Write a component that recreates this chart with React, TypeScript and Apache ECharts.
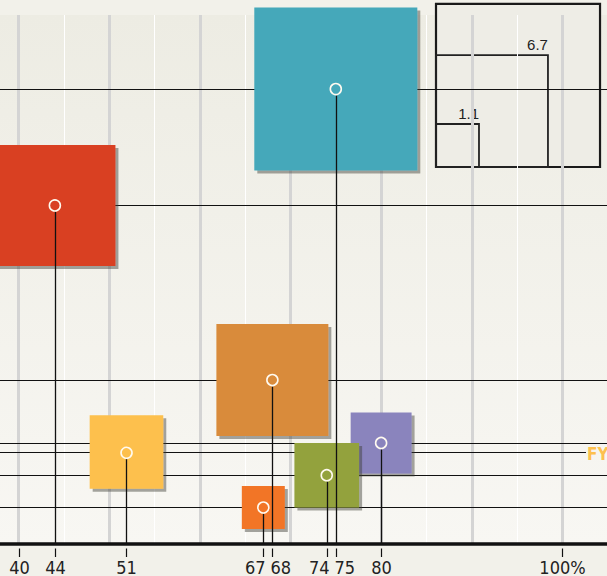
import React, { useEffect, useRef } from "react";
import * as echarts from "echarts";

// ---- data ----
const names = ["Red", "Teal", "Amber", "Yellow", "Violet", "Olive", "Orange"];
const xValues = [44, 75, 68, 51.9, 80, 74, 67];
const xLabels = ["44", "75", "68", "51", "80", "74", "67"];
const yValues = [64.0, 86.0, 31.0, 17.4, 19.1, 13.0, 6.9];
const sizeValues = [7.8, 13.9, 6.7, 3.0, 2.1, 2.35, 1.1];
const colors = ["#d93f22", "#45a8ba", "#d98b3a", "#fdc04e", "#8a84bd", "#93a23d", "#f27425"];
const endLabels = ["", "", "", "FY", "", "", ""];
const axisTickValues = [40, 100];
const axisTickLabels = ["40", "100%"];
const legendValues = [1.1, 6.7];
const legendLabels = ["1.1", "6.7"];

const FONT = "'Liberation Sans Narrow', 'DejaVu Sans Condensed', sans-serif";
const LEGEND_FONT = "'Liberation Sans', 'DejaVu Sans', sans-serif";
const sideOf = (v: number) => 44.8 * Math.sqrt(v) - 4;
const CHART_LEFT = -72;
const LABEL_END_X = 586 - CHART_LEFT; // where a labelled level line stops

export default function App() {
  const ref = useRef<HTMLDivElement>(null);

  useEffect(() => {
    const chart = echarts.init(ref.current!, null, { renderer: "svg" });

    const points = xValues.map((x, i) => [x, yValues[i], sizeValues[i], i]);

    const tickVals = [...axisTickValues, ...xValues];
    const tickTexts = [...axisTickLabels, ...xLabels];
    const order = tickVals.map((v, i) => i).sort((a, b) => tickVals[a] - tickVals[b]);
    const aligns: string[] = tickVals.map(() => "center");
    for (let k = 0; k < order.length - 1; k++) {
      const a = order[k], b = order[k + 1];
      if (tickVals[b] - tickVals[a] < 2) {
        aligns[a] = "right";
        aligns[b] = "left";
      }
    }
    const tickData = tickVals.map((v, i) => [v, 0, i]);

    const maxSize = Math.max(...sizeValues);
    const boxSide = sideOf(maxSize);
    const lgX = 436 - CHART_LEFT;
    const lgBottom = 167;

    const legendChildren: any[] = [
      {
        type: "rect",
        shape: { x: lgX, y: lgBottom - boxSide, width: boxSide + 1, height: boxSide },
        style: { fill: "#eeede6", stroke: "#1a1a1a", lineWidth: 2.2 },
      },
    ];
    legendValues.forEach((v, i) => {
      const s = sideOf(v);
      legendChildren.push({
        type: "rect",
        shape: { x: lgX, y: lgBottom - s, width: s, height: s },
        style: { fill: "none", stroke: "#222", lineWidth: 1.8 },
      });
      legendChildren.push({
        type: "text",
        x: lgX + s,
        y: lgBottom - s - 3,
        style: {
          text: legendLabels[i],
          fill: "#222",
          font: `15px ${LEGEND_FONT}`,
          textAlign: "right",
          textVerticalAlign: "bottom",
        },
      });
    });

    const option: any = {
      animation: false,
      grid: {
        left: 0,
        right: 35,
        top: 15,
        bottom: 32,
        show: true,
        borderWidth: 0,
        backgroundColor: new echarts.graphic.LinearGradient(0, 0, 0, 1, [
          { offset: 0, color: "#edece3" },
          { offset: 1, color: "#f8f7f3" },
        ]),
      },
      xAxis: [
        {
          type: "value",
          min: 30,
          max: 110,
          interval: 5,
          z: 0,
          axisLine: { show: false },
          axisTick: { show: false },
          axisLabel: { show: false },
          splitLine: { show: true, lineStyle: { color: "#ffffff", width: 1 } },
        },
        {
          type: "value",
          min: 30,
          max: 110,
          interval: 10,
          position: "bottom",
          z: 1,
          axisLine: { show: true, onZero: false, lineStyle: { color: "#111", width: 3.6 } },
          axisTick: { show: false },
          axisLabel: { show: false },
          splitLine: { show: true, lineStyle: { color: "#d4d4d4", width: 3 } },
        },
      ],
      yAxis: { type: "value", min: 0, max: 100, show: false },
      graphic: [{ type: "group", z: 100, children: legendChildren }],
      series: [
        {
          name: "levels",
          type: "custom",
          xAxisIndex: 1,
          z: 2,
          clip: false,
          data: points,
          renderItem: (params: any, api: any) => {
            const i = api.value(3);
            const p = api.coord([api.value(0), api.value(1)]);
            const y = Math.round(p[1]) + 0.5;
            const label = endLabels[i];
            const endX = label ? LABEL_END_X : api.getWidth();
            const children: any[] = [
              {
                type: "line",
                shape: { x1: 0, y1: y, x2: endX, y2: y },
                style: { stroke: "#111", lineWidth: 1.1 },
              },
            ];
            if (label) {
              children.push({
                type: "text",
                x: endX + 1,
                y: y + 1,
                style: {
                  text: label,
                  fill: colors[i],
                  font: `bold 17px ${FONT}`,
                  textAlign: "left",
                  textVerticalAlign: "middle",
                },
              });
            }
            return { type: "group", children };
          },
        },
        {
          name: "bubbles",
          type: "scatter",
          xAxisIndex: 1,
          z: 3,
          symbol: "rect",
          data: points,
          symbolSize: (val: number[]) => sideOf(val[2]),
          itemStyle: {
            color: (p: any) => colors[p.dataIndex],
            opacity: 1,
            shadowColor: "rgba(60,60,50,0.45)",
            shadowBlur: 1,
            shadowOffsetX: 3,
            shadowOffsetY: 3,
          },
          emphasis: { disabled: true },
        },
        {
          name: "drops",
          type: "custom",
          xAxisIndex: 1,
          z: 4,
          clip: false,
          data: points,
          renderItem: (params: any, api: any) => {
            const p = api.coord([api.value(0), api.value(1)]);
            const cs = params.coordSys;
            const bottom = cs.y + cs.height;
            const x = Math.round(p[0]) + 0.5;
            return {
              type: "group",
              children: [
                {
                  type: "line",
                  shape: { x1: x, y1: p[1] + 6.5, x2: x, y2: bottom },
                  style: { stroke: "#111", lineWidth: 1.3 },
                },
                {
                  type: "circle",
                  shape: { cx: p[0], cy: p[1], r: 5.5 },
                  style: { fill: "none", stroke: "#fffaf0", lineWidth: 1.6 },
                },
              ],
            };
          },
        },
        {
          name: "ticks",
          type: "custom",
          xAxisIndex: 1,
          z: 5,
          clip: false,
          data: tickData,
          renderItem: (params: any, api: any) => {
            const i = api.value(2);
            const p = api.coord([api.value(0), 0]);
            const cs = params.coordSys;
            const bottom = cs.y + cs.height;
            const x = Math.round(p[0]) + 0.5;
            const al = aligns[i];
            const tx = al === "right" ? x + 2 : al === "left" ? x - 2 : x;
            return {
              type: "group",
              children: [
                {
                  type: "line",
                  shape: { x1: x, y1: bottom + 4.5, x2: x, y2: bottom + 13 },
                  style: { stroke: "#111", lineWidth: 1.2 },
                },
                {
                  type: "text",
                  x: tx,
                  y: bottom + 23,
                  style: {
                    text: tickTexts[i],
                    fill: "#222",
                    font: `18px ${FONT}`,
                    textAlign: al,
                    textVerticalAlign: "middle",
                  },
                },
              ],
            };
          },
        },
      ],
    };

    chart.setOption(option);
    return () => chart.dispose();
  }, []);

  return (
    <div
      style={{
        position: "fixed",
        left: 0,
        top: 0,
        width: 607,
        height: 576,
        overflow: "hidden",
        background: "#f2f1ea",
      }}
    >
      <div ref={ref} style={{ position: "absolute", left: CHART_LEFT, top: 0, width: 760, height: 576 }} />
    </div>
  );
}
